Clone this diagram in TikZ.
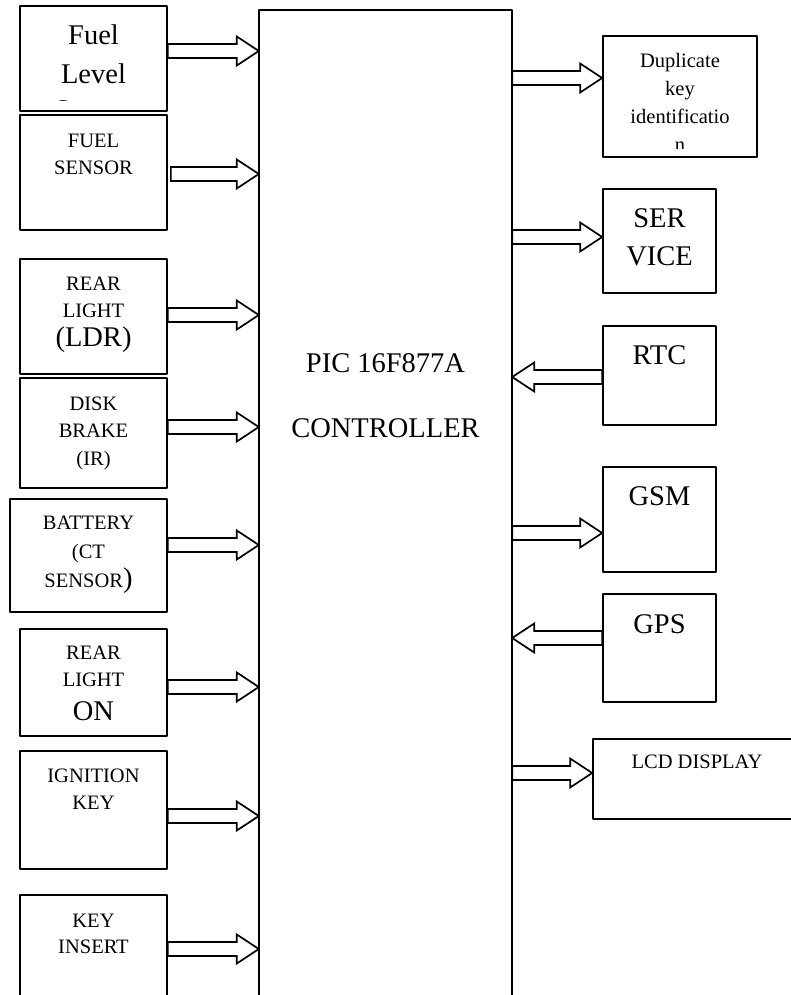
\documentclass[tikz,border=0pt]{standalone}
\usepackage{fontspec}
\setmainfont{Liberation Serif}
\usetikzlibrary{calc}
\newcommand{\smtxt}{\fontsize{20.5}{27.5}\selectfont}
\newcommand{\bigtxt}{\fontsize{28.5}{39}\selectfont}
\tikzset{
  box/.style={draw, line width=1.7pt, inner sep=0pt},
  lbl/.style={font=\smtxt, align=center, inner sep=0pt, anchor=north},
  lblbig/.style={lbl, font=\bigtxt},
  fat/.style={draw, line width=1.7pt, fill=white, line join=miter,
    to path={let \p1=(\tikztostart), \p2=(\tikztotarget), \n1={ifthenelse(\x2>\x1,1,-1)} in
      (\x1,\y1+7pt) -- ({\x2-\n1*22pt},\y1+7pt) -- ({\x2-\n1*22pt},\y1+14.5pt) -- (\x2,\y1)
      -- ({\x2-\n1*22pt},\y1-14.5pt) -- ({\x2-\n1*22pt},\y1-7pt) -- (\x1,\y1-7pt) -- cycle}}
}
\begin{document}
\begin{tikzpicture}[x=1pt, y=-1pt, line join=round]
	\useasboundingbox (0,0) rectangle (791,995);
	\clip (0,0) rectangle (791,995);
	% controller
	\node[inner sep=0pt, minimum width=253pt, minimum height=990pt] (pic) at (385.5,505) {};
	\draw[line width=1.5pt] (pic.south west) -- (pic.north west) -- (pic.north east) -- (pic.south east);
	\node[lblbig] (pictxt) at (385.5,353.7) {PIC 16F877A\\[26pt]CONTROLLER};
	% inputs
	\node[box, minimum width=147pt, minimum height=105pt] (fuel) at (93.5,58.5) {};
	\node[box, minimum width=147pt, minimum height=115pt] (fsens) at (93.5,172.5) {};
	\node[box, minimum width=147pt, minimum height=115pt] (ldr) at (93.5,316.5) {};
	\node[box, minimum width=147pt, minimum height=110pt] (disk) at (93.5,433) {};
	\node[box, minimum width=157pt, minimum height=113pt] (batt) at (88.5,555.5) {};
	\node[box, minimum width=147pt, minimum height=107pt] (rlon) at (93.5,682.5) {};
	\node[box, minimum width=147pt, minimum height=118pt] (ign) at (93.5,810) {};
	\node[box, minimum width=147pt, minimum height=105pt] (kins) at (93.5,947.5) {};
	\begin{scope}
		\clip (20,6) rectangle (167,101);
		\node[lblbig] (fueltxt) at (93.5,24.3) {Fuel\\Level\\[-3pt]Sensor};
	\end{scope}
	\node[lbl] (fsenstxt) at (93.5,133.5) {FUEL\\SENSOR};
	\node[lbl] (ldrtxt) at (93.5,276.5) {REAR\\LIGHT\\[1pt]{\bigtxt(LDR)}};
	\node[lbl] (disktxt) at (93.5,396.5) {DISK\\BRAKE\\(IR)};
	\node[lbl] (batttxt) at (88.5,515.5) {BATTERY\\[1.5pt](CT\\[1.5pt]SENSOR{\bigtxt)}};
	\node[lbl] (rlontxt) at (93.5,645.5) {REAR\\LIGHT\\[6pt]{\bigtxt ON}};
	\node[lbl] (igntxt) at (93.5,768.5) {IGNITION\\KEY};
	\node[lbl] (kinstxt) at (93.5,913.5) {KEY\\[-1pt]INSERT};
	% outputs
	\node[box, minimum width=154pt, minimum height=121pt] (dup) at (680,96.5) {};
	\node[box, minimum width=113pt, minimum height=104pt] (serv) at (659.5,241) {};
	\node[box, minimum width=113pt, minimum height=99pt] (rtc) at (659.5,375.5) {};
	\node[box, minimum width=113pt, minimum height=105pt] (gsm) at (659.5,519.5) {};
	\node[box, minimum width=113pt, minimum height=108pt] (gps) at (659.5,648) {};
	\node[box, minimum width=208pt, minimum height=80pt] (lcd) at (697,779) {};
	\begin{scope}
		\clip (603,36) rectangle (757,148.5);
		\node[lbl] (duptxt) at (680,52.9) {Duplicate\\[0.5pt]key\\[0.5pt]identificatio\\[0.5pt]n};
	\end{scope}
	\node[lblbig] (servtxt) at (659.5,208.2) {SER\\[-1pt]VICE};
	\node[lblbig] (rtctxt) at (659.5,345.2) {RTC};
	\node[lblbig] (gsmtxt) at (659.5,486.2) {GSM};
	\node[lblbig] (gpstxt) at (659.5,614.2) {GPS};
	\node[lbl] (lcdtxt) at (697,755) {LCD DISPLAY};
	% arrows
	\draw[fat] ($(fuel.east)+(0,-7.5)$) to (pic.west);
	\draw[fat] ($(fsens.east)+(3,1.5)$) to (pic.west);
	\draw[fat] ($(ldr.east)+(0,-1.5)$) to (pic.west);
	\draw[fat] ($(disk.east)+(0,-6)$) to (pic.west);
	\draw[fat] ($(batt.east)+(0,-10.5)$) to (pic.west);
	\draw[fat] ($(rlon.east)+(0,4.5)$) to (pic.west);
	\draw[fat] ($(ign.east)+(0,6)$) to (pic.west);
	\draw[fat] ($(kins.east)+(0,1.5)$) to (pic.west);
	\draw[fat] ($(pic.east |- dup.west)+(0,-18.5)$) to (dup.west);
	\draw[fat] ($(pic.east |- serv.west)+(0,-4)$) to (serv.west);
	\draw[fat] ($(rtc.west)+(0,1.5)$) to (pic.east);
	\draw[fat] ($(pic.east |- gsm.west)+(0,13.5)$) to (gsm.west);
	\draw[fat] ($(gps.west)+(0,-10)$) to (pic.east);
	\draw[fat] ($(pic.east |- lcd.west)+(0,-6)$) to (lcd.west);
\end{tikzpicture}
\end{document}
